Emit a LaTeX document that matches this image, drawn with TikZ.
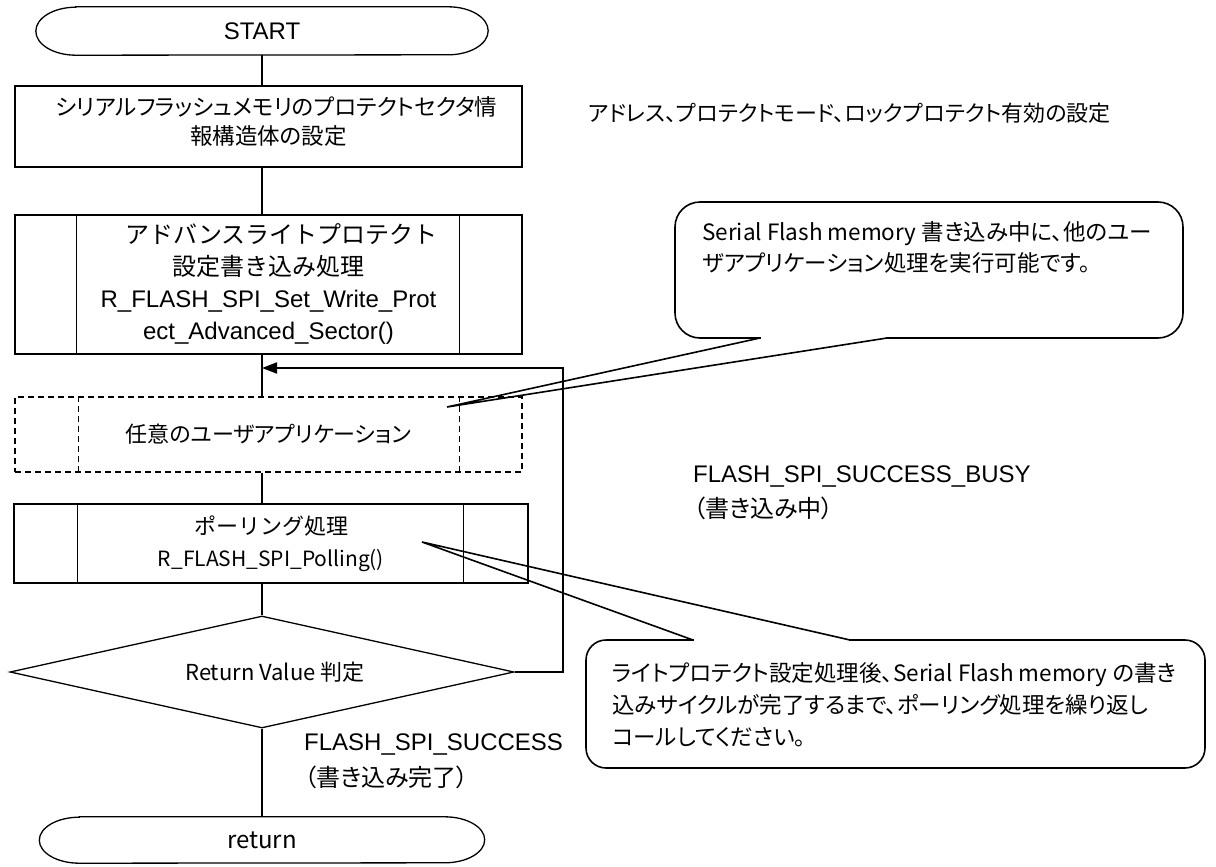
\documentclass[tikz,border=0pt]{standalone}
\usepackage{fontspec}
\setmainfont{Liberation Sans}
\newfontfamily\jpp[RawFeature=+palt]{Noto Sans CJK JP}
\newfontfamily\jpm{Noto Sans CJK JP}
\usetikzlibrary{shapes.geometric,arrows.meta}
\tikzset{
  ln/.style={line width=1.3pt},
  bx/.style={draw, line width=1.3pt, inner sep=0pt, align=center},
  cl/.style={line width=1.6pt},
  jp/.style={font=\jpp\fontsize{24}{32}\selectfont},
  jps/.style={font=\jpp\fontsize{22.5}{32}\selectfont},
  ar/.style={font=\fontsize{24}{32}\selectfont},
  lbl/.style={inner sep=0pt, anchor=west},
}
\begin{document}
\begin{tikzpicture}[x=1pt,y=-1pt,line join=miter]
\useasboundingbox (0,0) rectangle (1216,867);
\coordinate (col) at (262,0);

% START terminal
\node[ar, inner sep=0pt, minimum width=452pt, minimum height=48pt] (start) at (262,31) {\raisebox{-3pt}{START}};
\draw[ln] ([xshift=40pt]start.north west) -- ([xshift=-40pt]start.north east)
  arc[start angle=90,end angle=-90,x radius=40pt,y radius=24pt]
  -- ([xshift=40pt]start.south west)
  arc[start angle=270,end angle=90,x radius=40pt,y radius=24pt] -- cycle;

% box 1
\node[bx, minimum width=507pt, minimum height=81pt, text depth=11pt, font=\jpp\fontsize{22.5}{29}\selectfont] (b1) at (268.5,126.5)
  {\hspace*{16pt}シリアルフラッシュメモリのプロテクトセクタ情\\報構造体の設定};

% advanced write protect box
\node[bx, minimum width=507pt, minimum height=139pt, ar] (adv) at (268.5,284.5)
  {{\jpm\hspace*{26pt}アドバンスライトプロテクト}\\{\jpm 設定書き込み処理}\\R\_FLASH\_SPI\_Set\_Write\_Prot\\ect\_Advanced\_Sector()};
\draw[ln] ([xshift=62pt]adv.north west) -- ([xshift=62pt]adv.south west);
\draw[ln] ([xshift=-63pt]adv.north east) -- ([xshift=-63pt]adv.south east);

% user application (dashed)
\node[bx, dash pattern=on 6pt off 4pt, minimum width=507pt, minimum height=75pt, font=\jpp\fontsize{22}{32}\selectfont] (app) at (268.5,434.5)
  {任意のユーザアプリケーション};
\draw[ln, dash pattern=on 6pt off 4pt] ([xshift=64pt]app.north west) -- ([xshift=64pt]app.south west);
\draw[ln, dash pattern=on 6pt off 4pt] ([xshift=-63pt]app.north east) -- ([xshift=-63pt]app.south east);

% polling box
\node[bx, minimum width=514pt, minimum height=79pt, font=\jpp\fontsize{21}{32}\selectfont] (poll) at (271,543.5)
  {{\jpm\fontsize{22}{32}\selectfont ポーリング処理}\\R\_FLASH\_SPI\_Polling()};
\draw[ln] ([xshift=64pt]poll.north west) -- ([xshift=64pt]poll.south west);
\draw[ln] ([xshift=-65pt]poll.north east) -- ([xshift=-65pt]poll.south east);

% decision
\node[diamond, draw, ln, aspect=4.5, minimum width=504pt, minimum height=112pt, inner sep=0pt, font=\jpp\fontsize{22}{32}\selectfont] (dia) at (262,672)
  {\hspace*{26pt}Return Value 判定};

% return terminal
\node[jp, inner sep=0pt, minimum width=445pt, minimum height=46pt] (ret) at (262,840) {\raisebox{-2pt}{return}};
\draw[ln] ([xshift=40pt]ret.north west) -- ([xshift=-40pt]ret.north east)
  arc[start angle=90,end angle=-90,x radius=40pt,y radius=23pt]
  -- ([xshift=40pt]ret.south west)
  arc[start angle=270,end angle=90,x radius=40pt,y radius=23pt] -- cycle;

% connectors
\draw[ln] (start.south) -- (col |- b1.north);
\draw[ln] (col |- b1.south) -- (col |- adv.north);
\draw[ln] (col |- adv.south) -- (col |- app.north);
\draw[ln] (col |- app.south) -- (col |- poll.north);
\draw[ln] (col |- poll.south) -- (dia.north);
\draw[ln] (dia.south) -- (ret.north);

% loop back
\coordinate (looptop) at (563,368);
\draw[line width=2pt, -{Triangle[length=15pt,width=11pt]}] (dia.east) -| (looptop) -- (col |- looptop);

% labels
\node[lbl, font=\jpp\fontsize{22}{32}\selectfont] (note) at (588,113) {アドレス、プロテクトモード、ロックプロテクト有効の設定};
\node[lbl, ar] (busy) at (693,477) {FLASH\_SPI\_SUCCESS\_BUSY};
\node[lbl, jp] (busyj) at (693,508) {（書き込み中）};
\node[lbl, ar] (succ) at (304,744) {FLASH\_SPI\_SUCCESS};
\node[lbl, jp] (succj) at (304,777) {（書き込み完了）};

% callout 1
\node[draw, cl, rounded corners=25pt, minimum width=508pt, minimum height=136pt, inner sep=0pt] (c1) at (929,270) {};
\coordinate (t1) at (447,407);
\coordinate (c1a) at (760,338);
\coordinate (c1b) at (887,338);
\fill[white] ([shift={(0.9pt,-1.3pt)}]c1a) rectangle ([shift={(-0.9pt,1.3pt)}]c1b);
\draw[cl] (c1a) -- (t1) -- (c1b);
\node[lbl, align=left, font=\jpp\fontsize{22.5}{31}\selectfont] (c1t) at (702,247.5)
  {Serial Flash memory 書き込み中に、他のユー\\ザアプリケーション処理を実行可能です。};

% callout 2
\node[draw, cl, rounded corners=20pt, minimum width=619pt, minimum height=128pt, inner sep=0pt] (c2) at (895.5,704) {};
\coordinate (t2) at (422,542);
\coordinate (c2a) at (693,640);
\coordinate (c2b) at (850,640);
\fill[white] ([shift={(0.9pt,-1.3pt)}]c2a) rectangle ([shift={(-0.9pt,1.3pt)}]c2b);
\draw[cl] (c2a) -- (t2) -- (c2b);
\node[lbl, align=left, font=\jpp\fontsize{22.5}{32}\selectfont] (c2t) at (612,704.5)
  {ライトプロテクト設定処理後、Serial Flash memory の書き\\込みサイクルが完了するまで、ポーリング処理を繰り返し\\コールしてください。};
\end{tikzpicture}
\end{document}
